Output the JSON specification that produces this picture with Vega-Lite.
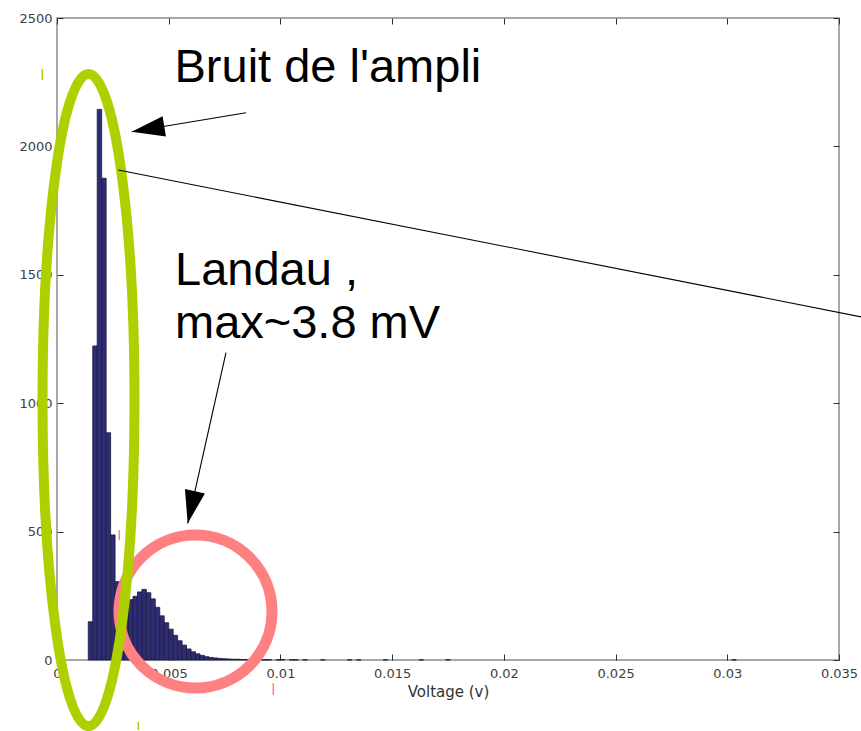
{
  "$schema": "https://vega.github.io/schema/vega-lite/v6.json",
  "width": 782,
  "height": 642,
  "autosize": "none",
  "padding": {"left": 57, "top": 18, "right": 22, "bottom": 71},
  "background": "white",
  "config": {
    "view": {"stroke": "#8c8c8c", "strokeWidth": 1.5},
    "axis": {
      "labelFont": "DejaVu Sans",
      "labelFontSize": 13,
      "labelColor": "#404040",
      "tickColor": "#303030",
      "tickWidth": 1,
      "tickSize": -6,
      "domain": false,
      "grid": false,
      "labelFlush": false,
      "labelOverlap": false,
      "zindex": 0,
      "titleFont": "DejaVu Sans",
      "titleFontSize": 15,
      "titleFontWeight": "normal",
      "titleColor": "#333333"
    }
  },
  "datasets": {
    "hist": [
      {"v0": 0.0014, "v1": 0.0016, "n": 149},
      {"v0": 0.0016, "v1": 0.0018, "n": 1223},
      {"v0": 0.0018, "v1": 0.0020, "n": 2144},
      {"v0": 0.0020, "v1": 0.0022, "n": 1876},
      {"v0": 0.0022, "v1": 0.0024, "n": 885},
      {"v0": 0.0024, "v1": 0.0026, "n": 487},
      {"v0": 0.0026, "v1": 0.0028, "n": 305},
      {"v0": 0.0028, "v1": 0.0030, "n": 250},
      {"v0": 0.0030, "v1": 0.0032, "n": 228},
      {"v0": 0.0032, "v1": 0.0034, "n": 235},
      {"v0": 0.0034, "v1": 0.0036, "n": 248},
      {"v0": 0.0036, "v1": 0.0038, "n": 265},
      {"v0": 0.0038, "v1": 0.0040, "n": 275},
      {"v0": 0.0040, "v1": 0.0042, "n": 262},
      {"v0": 0.0042, "v1": 0.0044, "n": 238},
      {"v0": 0.0044, "v1": 0.0046, "n": 205},
      {"v0": 0.0046, "v1": 0.0048, "n": 172},
      {"v0": 0.0048, "v1": 0.0050, "n": 145},
      {"v0": 0.0050, "v1": 0.0052, "n": 120},
      {"v0": 0.0052, "v1": 0.0054, "n": 96},
      {"v0": 0.0054, "v1": 0.0056, "n": 75},
      {"v0": 0.0056, "v1": 0.0058, "n": 58},
      {"v0": 0.0058, "v1": 0.0060, "n": 43},
      {"v0": 0.0060, "v1": 0.0062, "n": 32},
      {"v0": 0.0062, "v1": 0.0064, "n": 24},
      {"v0": 0.0064, "v1": 0.0066, "n": 18},
      {"v0": 0.0066, "v1": 0.0068, "n": 13},
      {"v0": 0.0068, "v1": 0.0070, "n": 10},
      {"v0": 0.0070, "v1": 0.0072, "n": 8},
      {"v0": 0.0072, "v1": 0.0074, "n": 6},
      {"v0": 0.0074, "v1": 0.0076, "n": 5},
      {"v0": 0.0076, "v1": 0.0078, "n": 4},
      {"v0": 0.0078, "v1": 0.0080, "n": 3},
      {"v0": 0.0080, "v1": 0.0082, "n": 3},
      {"v0": 0.0082, "v1": 0.0084, "n": 2},
      {"v0": 0.0084, "v1": 0.0086, "n": 2},
      {"v0": 0.0086, "v1": 0.0088, "n": 2},
      {"v0": 0.0088, "v1": 0.0090, "n": 1},
      {"v0": 0.0090, "v1": 0.0092, "n": 1},
      {"v0": 0.0092, "v1": 0.0094, "n": 1},
      {"v0": 0.0094, "v1": 0.0096, "n": 1},
      {"v0": 0.0098, "v1": 0.0100, "n": 1},
      {"v0": 0.0100, "v1": 0.0102, "n": 2},
      {"v0": 0.0104, "v1": 0.0106, "n": 1},
      {"v0": 0.0106, "v1": 0.0108, "n": 1},
      {"v0": 0.0110, "v1": 0.0112, "n": 1},
      {"v0": 0.0118, "v1": 0.0120, "n": 1},
      {"v0": 0.0130, "v1": 0.0132, "n": 1},
      {"v0": 0.0134, "v1": 0.0136, "n": 1},
      {"v0": 0.0146, "v1": 0.0148, "n": 1},
      {"v0": 0.0162, "v1": 0.0164, "n": 1},
      {"v0": 0.0174, "v1": 0.0176, "n": 1},
      {"v0": 0.0302, "v1": 0.0304, "n": 1}
    ],
    "lines": [
      {"x": 0.008459, "y": 2131, "x2": 0.003343, "y2": 2057},
      {"x": 0.002744, "y": 1908, "x2": 0.036, "y2": 1336},
      {"x": 0.007564, "y": 1197, "x2": 0.00585, "y2": 532}
    ],
    "heads": [
      {"x": 0.003343, "y": 2057, "angle": 170.6},
      {"x": 0.00585, "y": 532, "angle": 102.6}
    ],
    "handles": [
      {"x": -0.000658, "y": 2301, "y2": 2259, "c": "g"},
      {"x": 0.003639, "y": -241, "y2": -273, "c": "g"},
      {"x": 0.002788, "y": 506, "y2": 467, "c": "p"},
      {"x": 0.009681, "y": -90, "y2": -136, "c": "p"}
    ],
    "labels": [
      {"x": 0.005259, "y": 2251, "t": "Bruit de l'ampli"},
      {"x": 0.005281, "y": 1460, "t": "Landau ,"},
      {"x": 0.005281, "y": 1254, "t": "max~3.8 mV"}
    ]
  },
  "layer": [
    {
      "data": {"name": "hist"},
      "mark": {"type": "bar", "fill": "#2f2d72", "stroke": "#1c1b45", "strokeWidth": 0.8, "clip": false},
      "encoding": {
        "x": {"field": "v0", "type": "quantitative", "scale": {"domain": [0, 0.035], "nice": false, "zero": false},
              "axis": {"orient": "bottom", "values": [0, 0.005, 0.01, 0.015, 0.02, 0.025, 0.03, 0.035], "format": "~g", "labelPadding": 13, "title": "Voltage (v)", "titlePadding": 4}},
        "x2": {"field": "v1"},
        "y": {"field": "n", "type": "quantitative", "scale": {"domain": [0, 2500], "nice": false},
              "axis": {"orient": "left", "values": [0, 500, 1000, 1500, 2000, 2500], "format": "d", "labelPadding": 11, "title": null}},
        "y2": {"datum": 0}
      }
    },
    {
      "data": {"values": [{"x": 0.0062, "y": 189}]},
      "mark": {"type": "point", "shape": "circle", "filled": false, "stroke": "#ff8080", "strokeWidth": 11, "size": 23409, "opacity": 1},
      "encoding": {
        "x": {"field": "x", "type": "quantitative", "scale": {"domain": [0, 0.035], "nice": false, "zero": false},
              "axis": {"orient": "top", "labels": false, "title": null, "values": [0, 0.005, 0.01, 0.015, 0.02, 0.025, 0.03, 0.035]}},
        "y": {"field": "y", "type": "quantitative", "scale": {"domain": [0, 2500], "nice": false},
              "axis": {"orient": "right", "labels": false, "title": null, "values": [0, 500, 1000, 1500, 2000, 2500]}}
      }
    },
    {
      "data": {"values": [{"x": 0.00141, "y": 1012}]},
      "mark": {"type": "point", "shape": "M 0 -1 C 0.0779 -1 0.141 -0.5523 0.141 0 C 0.141 0.5523 0.0779 1 0 1 C -0.0779 1 -0.141 0.5523 -0.141 0 C -0.141 -0.5523 -0.0779 -1 0 -1 Z", "filled": false, "stroke": "#afd000", "strokeWidth": 10, "size": 425104, "opacity": 1},
      "encoding": {
        "x": {"field": "x", "type": "quantitative", "scale": {"domain": [0, 0.035], "nice": false, "zero": false}, "axis": null},
        "y": {"field": "y", "type": "quantitative", "scale": {"domain": [0, 2500], "nice": false}, "axis": null}
      }
    },
    {
      "data": {"name": "handles"},
      "mark": {"type": "rule", "strokeWidth": 1.5},
      "encoding": {
        "x": {"field": "x", "type": "quantitative", "scale": {"domain": [0, 0.035], "nice": false, "zero": false}, "axis": null},
        "y": {"field": "y", "type": "quantitative", "scale": {"domain": [0, 2500], "nice": false}, "axis": null},
        "y2": {"field": "y2"},
        "color": {"field": "c", "type": "nominal", "scale": {"domain": ["g", "p"], "range": ["#afd000", "#ff8080"]}, "legend": null}
      }
    },
    {
      "data": {"name": "lines"},
      "mark": {"type": "rule", "color": "black", "strokeWidth": 1.1},
      "encoding": {
        "x": {"field": "x", "type": "quantitative", "scale": {"domain": [0, 0.035], "nice": false, "zero": false}, "axis": null},
        "y": {"field": "y", "type": "quantitative", "scale": {"domain": [0, 2500], "nice": false}, "axis": null},
        "x2": {"field": "x2"},
        "y2": {"field": "y2"}
      }
    },
    {
      "data": {"name": "heads"},
      "mark": {"type": "point", "shape": "M 0 0 L -2 -0.62 L -2 0.62 Z", "filled": true, "fill": "black", "stroke": null, "size": 1089, "opacity": 1},
      "encoding": {
        "x": {"field": "x", "type": "quantitative", "scale": {"domain": [0, 0.035], "nice": false, "zero": false}, "axis": null},
        "y": {"field": "y", "type": "quantitative", "scale": {"domain": [0, 2500], "nice": false}, "axis": null},
        "angle": {"field": "angle", "type": "quantitative", "scale": null}
      }
    },
    {
      "data": {"name": "labels"},
      "mark": {"type": "text", "font": "Liberation Sans", "fontSize": 47, "align": "left", "baseline": "alphabetic", "color": "black"},
      "encoding": {
        "x": {"field": "x", "type": "quantitative", "scale": {"domain": [0, 0.035], "nice": false, "zero": false}, "axis": null},
        "y": {"field": "y", "type": "quantitative", "scale": {"domain": [0, 2500], "nice": false}, "axis": null},
        "text": {"field": "t"}
      }
    }
  ],
  "resolve": {"axis": {"x": "independent", "y": "independent"}}
}
